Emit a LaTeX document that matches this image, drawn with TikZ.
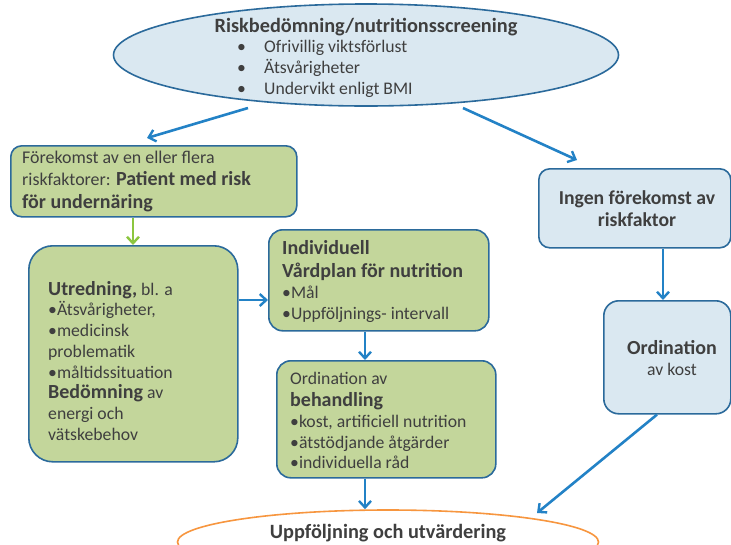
\documentclass[tikz,border=0pt]{standalone}
\usepackage{fontspec}
\setmainfont{Carlito}
\usetikzlibrary{shapes.geometric,arrows.meta}
\definecolor{boxgreen}{HTML}{C3D69B}
\definecolor{boxblue}{HTML}{DAE8F1}
\definecolor{edgeblue}{HTML}{2B6A9B}
\definecolor{arrowblue}{HTML}{2382C6}
\definecolor{arrowgreen}{HTML}{8CC63F}
\definecolor{orangeline}{HTML}{F7963F}
\definecolor{txtgray}{HTML}{3F3F3F}
\newcommand{\bigb}[1]{{\fontsize{20}{20}\selectfont\bfseries #1}}
\begin{document}
\begin{tikzpicture}[x=1pt,y=-1pt,
  gbox/.style={draw=edgeblue, fill=boxgreen, line width=1.6pt, inner sep=0pt, anchor=north west},
  bbox/.style={draw=edgeblue, fill=boxblue, line width=1.6pt, inner sep=0pt, anchor=north west},
  txt/.style={inner sep=0pt, text=txtgray, align=left, anchor=north west},
  arr/.style={draw=arrowblue, line width=2.6pt, -{Straight Barb[length=6.5pt,width=12pt,line width=2.4pt]}},
  garr/.style={draw=arrowgreen, line width=2.6pt, -{Straight Barb[length=6.5pt,width=12pt,line width=2.4pt]}}]
\useasboundingbox (0,0) rectangle (731,544);
% top ellipse
\node[ellipse, draw=edgeblue, fill=boxblue, line width=1.6pt, minimum width=505pt, minimum height=102pt, inner sep=0pt] (top) at (366,55) {};
\node[inner sep=0pt, text=txtgray, font=\fontsize{20.3}{20}\selectfont\bfseries] (toptitle) at (366,27) {Riskbedömning/nutritionsscreening};
\node[txt, font=\fontsize{17.7}{20.7}\selectfont] (toplist) at (237,40.5) {\makebox[27pt][l]{•}Ofrivillig viktsförlust\\\makebox[27pt][l]{•}Ätsvårigheter\\\makebox[27pt][l]{•}Undervikt enligt BMI};
% box 1
\node[gbox, rounded corners=11pt, minimum width=286pt, minimum height=71pt] (b1) at (10,145) {};
\node[txt, font=\fontsize{17.9}{22.5}\selectfont] (t1) at (22,150.5) {Förekomst av en eller flera\\riskfaktorer: \bigb{Patient med risk}\\\bigb{för undernäring}};
% box 2
\node[gbox, rounded corners=24pt, minimum width=209pt, minimum height=216pt] (b2) at (28,245) {};
\node[txt, font=\fontsize{17.7}{20.7}\selectfont] (t2) at (48,281) {\bigb{Utredning,} bl. a\\•Ätsvårigheter,\\•medicinsk\\problematik\\•måltidssituation\\\bigb{Bedömning} av\\energi och\\vätskebehov};
% box 3
\node[gbox, rounded corners=14pt, minimum width=220pt, minimum height=101pt] (b3) at (268,229) {};
\node[txt, font=\fontsize{17.7}{21}\selectfont] (t3) at (282,240) {\bigb{Individuell}\\[2pt]\bigb{Vårdplan för nutrition}\\•Mål\\•Uppföljnings- intervall};
% box 4
\node[gbox, rounded corners=14pt, minimum width=219pt, minimum height=117pt] (b4) at (276,360) {};
\node[txt, font=\fontsize{17.7}{20.7}\selectfont] (t4) at (290,372.5) {Ordination av\\[1pt]\bigb{behandling}\\•kost, artificiell nutrition\\•ätstödjande åtgärder\\•individuella råd};
% right boxes
\node[bbox, rounded corners=11pt, minimum width=192pt, minimum height=79pt] (b5) at (538,168) {};
\node[inner sep=0pt, text=txtgray, font=\fontsize{19.7}{22}\selectfont\bfseries, align=center] (t5) at (637,209) {Ingen förekomst av\\riskfaktor};
\node[bbox, rounded corners=15pt, minimum width=127pt, minimum height=113pt] (b6) at (603,300) {};
\node[inner sep=0pt, text=txtgray, font=\fontsize{17.7}{21.5}\selectfont, align=center] (t6) at (672,358) {\bigb{Ordination}\\av kost};
% bottom ellipse
\node[ellipse, draw=orangeline, fill=white, line width=1.6pt, minimum width=421pt, minimum height=64pt, inner sep=0pt] (bot) at (388,542) {};
\node[inner sep=0pt, text=txtgray, font=\fontsize{20.3}{20}\selectfont\bfseries] (bottitle) at (388,533) {Uppföljning och utvärdering};
% connectors
\coordinate (a1s) at (248,108);
\coordinate (a1e) at (147,138);
\coordinate (a2s) at (463,108);
\coordinate (a2e) at (577,160);
\draw[arr] (a1s) -- (a1e);
\draw[arr] (a2s) -- (a2e);
\draw[garr] (b1.south -| 133,0) -- (b2.north -| 133,0);
\draw[arr] (b2.east |- 0,300) -- (b3.west |- 0,300);
\draw[arr] (b3.south -| 365,0) -- (b4.north -| 365,0);
\draw[arr] (b4.south -| 365,0) -- (bot.north -| 365,0);
\draw[arr] (b5.south -| 663,0) -- (b6.north -| 663,0);
\coordinate (a6e) at (537,513);
\draw[arr] (b6.south -| 657,0) -- (a6e);
\end{tikzpicture}
\end{document}
